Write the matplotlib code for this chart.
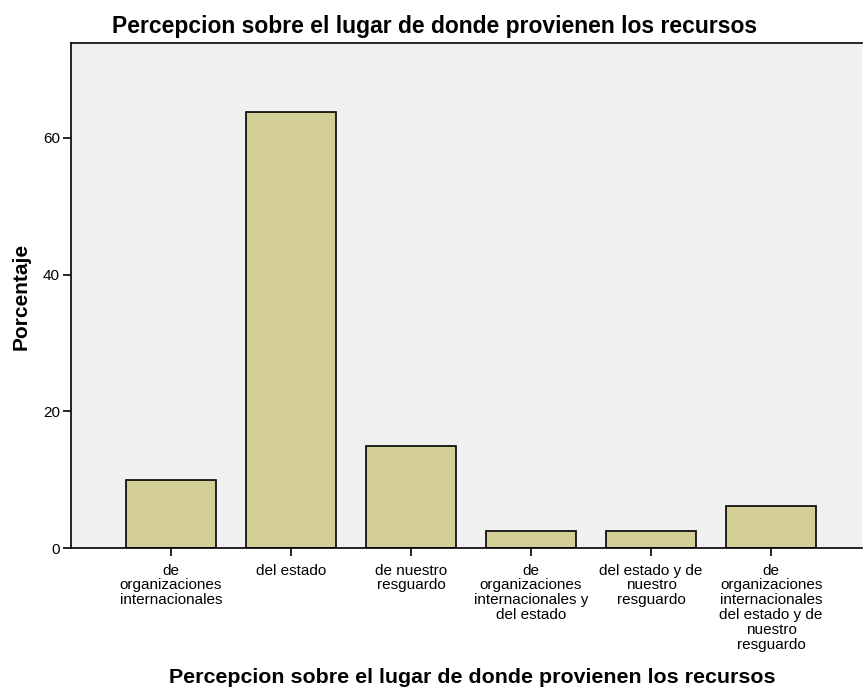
import matplotlib
matplotlib.use("Agg")
import matplotlib.pyplot as plt

# =========================
# DATA
# =========================
categories = [
    "de\norganizaciones\ninternacionales",
    "del estado",
    "de nuestro\nresguardo",
    "de\norganizaciones\ninternacionales y\ndel estado",
    "del estado y de\nnuestro\nresguardo",
    "de\norganizaciones\ninternacionales\ndel estado y de\nnuestro\nresguardo",
]
porcentaje = [10.0, 63.75, 15.0, 2.5, 2.5, 6.25]
yticks = [0, 20, 40, 60]

title = "Percepcion sobre el lugar de donde provienen los recursos"

# =========================
# PLOT
# =========================
plt.rcParams["font.family"] = ["Liberation Sans", "DejaVu Sans"]

fig = plt.figure(figsize=(8.63, 6.89), dpi=100)
ax = fig.add_axes([0.0823, 0.2042, 0.9166, 0.733])
ax.set_facecolor("#f0f0f0")

x = list(range(len(categories)))
ax.bar(x, porcentaje, width=0.75, color="#d3ce98", edgecolor="black", linewidth=1.2, zorder=2)

ax.set_xlim(-0.833, 5.758)
ax.set_ylim(0, 73.8)
ax.set_yticks(yticks)
ax.set_xticks(x)
ax.set_xticklabels(categories, fontsize=11, linespacing=1.08, va="top")
ax.tick_params(axis="y", labelsize=11, length=6, width=1.2, pad=2)
ax.tick_params(axis="x", length=6, width=1.2, pad=5)

for side in ["top", "left", "bottom"]:
    ax.spines[side].set_linewidth(1.2)
ax.spines["right"].set_visible(False)

fig.text(0.504, 0.962, title, ha="center", va="center", fontsize=16.5, fontweight="bold")
fig.text(0.547, 0.017, title, ha="center", va="center", fontsize=15.4, fontweight="bold")
fig.text(0.024, 0.57, "Porcentaje", ha="center", va="center", rotation=90,
         fontsize=15, fontweight="bold")

fig.savefig("out.png", dpi=100)
